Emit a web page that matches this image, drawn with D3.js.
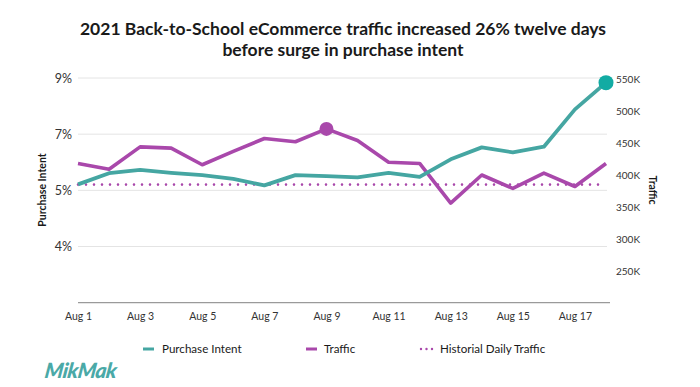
<!DOCTYPE html>
<html>
<head>
<meta charset="utf-8">
<script src="https://cdn.jsdelivr.net/npm/d3@7"></script>
<style>
  body { margin: 0; background: #fff; }
  svg { display: block; font-family: Lato, "Open Sans", sans-serif; }
</style>
</head>
<body>
<svg id="chart" width="700" height="387"></svg>
<script>
// data
var days = ['Aug 1', 'Aug 2', 'Aug 3', 'Aug 4', 'Aug 5', 'Aug 6', 'Aug 7', 'Aug 8', 'Aug 9',
    'Aug 10', 'Aug 11', 'Aug 12', 'Aug 13', 'Aug 14', 'Aug 15', 'Aug 16', 'Aug 17', 'Aug 18'];
var dayLabels = ['Aug 1', 'Aug 3', 'Aug 5', 'Aug 7', 'Aug 9', 'Aug 11', 'Aug 13', 'Aug 15', 'Aug 17'];
var purchaseIntent = [5.58, 5.92, 6.02, 5.93, 5.86, 5.75, 5.55, 5.86, 5.83,
    5.79, 5.93, 5.81, 6.34, 6.70, 6.55, 6.72, 7.85, 8.66];
var traffic = [418, 409, 444, 442, 416, 437, 457, 452, 472,
    454, 420, 418, 356, 400, 379, 403, 382, 418];
var historicalTraffic = 385;
var pctTicks = [8.8, 7.1, 5.4, 3.7];
var pctTickLabels = ['9%', '7%', '5%', '4%'];
var trafficTicks = [250, 300, 350, 400, 450, 500, 550];

var teal = '#45a6a2',
    tealDot = '#12aba3',
    purple = '#a948ab';

var svg = d3.select('#chart');

var x = d3.scalePoint().domain(days).range([78, 606]);
var yPct = d3.scaleLinear().domain([2, 8.8]).range([302.7, 78]);
var yTraffic = d3.scaleLinear().domain([200, 550]).range([303, 79]);

// title
var title = svg.append('text')
    .attr('x', 343)
    .attr('y', 35)
    .attr('text-anchor', 'middle')
    .style('font-family', 'Lato, sans-serif')
    .style('font-weight', 700)
    .style('font-size', '17.5px')
    .style('fill', '#1a1a1a');
title.append('tspan').attr('x', 343).text('2021 Back-to-School eCommerce traffic increased 26% twelve days');
title.append('tspan').attr('x', 343).attr('dy', 21).text('before surge in purchase intent');

// gridlines from the left axis
svg.append('g')
    .selectAll('line')
    .data(pctTicks)
    .enter()
    .append('line')
    .attr('x1', 78)
    .attr('x2', 607)
    .attr('y1', d => yPct(d))
    .attr('y2', d => yPct(d))
    .attr('stroke', '#e4e4e4')
    .attr('stroke-width', 1);

// left axis
var leftAxis = svg.append('g')
    .attr('transform', 'translate(72,0)')
    .call(d3.axisLeft(yPct).tickValues(pctTicks).tickSize(0).tickPadding(0)
        .tickFormat((d, i) => pctTickLabels[i]));
leftAxis.select('.domain').remove();
leftAxis.selectAll('text')
    .style('font-family', 'Lato, sans-serif')
    .style('font-size', '12.5px')
    .style('fill', '#333');

// right axis
var rightAxis = svg.append('g')
    .attr('transform', 'translate(616,0)')
    .call(d3.axisRight(yTraffic).tickValues(trafficTicks).tickSize(0).tickPadding(0)
        .tickFormat(d => d + 'K'));
rightAxis.select('.domain').remove();
rightAxis.selectAll('text')
    .style('font-family', 'Lato, sans-serif')
    .style('font-size', '10px')
    .style('fill', '#333');

// bottom axis
var bottomAxis = svg.append('g')
    .attr('transform', 'translate(0,302.7)')
    .call(d3.axisBottom(x).tickValues(dayLabels).tickSize(0).tickPadding(10));
bottomAxis.select('.domain').remove();
bottomAxis.selectAll('text')
    .style('font-family', 'Lato, sans-serif')
    .style('font-size', '10.5px')
    .style('fill', '#333');
svg.append('line')
    .attr('x1', 78)
    .attr('x2', 610)
    .attr('y1', 302.7)
    .attr('y2', 302.7)
    .attr('stroke', '#9a9a9a')
    .attr('stroke-width', 1.2);

// axis titles
svg.append('text')
    .attr('transform', 'translate(46,190) rotate(-90)')
    .attr('text-anchor', 'middle')
    .style('font-size', '10.5px')
    .style('font-weight', 700)
    .style('fill', '#1a1a1a')
    .text('Purchase Intent');
svg.append('text')
    .attr('transform', 'translate(649,190) rotate(90)')
    .attr('text-anchor', 'middle')
    .style('font-size', '10.5px')
    .style('font-weight', 700)
    .style('fill', '#1a1a1a')
    .text('Traffic');

// historical daily traffic (dotted)
svg.append('line')
    .attr('x1', x(days[0]))
    .attr('x2', x(days[days.length - 1]))
    .attr('y1', yTraffic(historicalTraffic))
    .attr('y2', yTraffic(historicalTraffic))
    .attr('stroke', purple)
    .attr('stroke-width', 2.6)
    .attr('stroke-linecap', 'round')
    .attr('stroke-dasharray', '0 8');

// traffic line
var trafficLine = d3.line()
    .x((d, i) => x(days[i]))
    .y(d => yTraffic(d));
svg.append('path')
    .datum(traffic)
    .attr('d', trafficLine)
    .attr('fill', 'none')
    .attr('stroke', purple)
    .attr('stroke-width', 3.6)
    .attr('stroke-linejoin', 'round');

// purchase intent line
var pctLine = d3.line()
    .x((d, i) => x(days[i]))
    .y(d => yPct(d));
svg.append('path')
    .datum(purchaseIntent)
    .attr('d', pctLine)
    .attr('fill', 'none')
    .attr('stroke', teal)
    .attr('stroke-width', 3.8)
    .attr('stroke-linejoin', 'round');

// highlighted points
var peakTraffic = traffic.indexOf(d3.max(traffic));
svg.append('circle')
    .attr('cx', x(days[peakTraffic]))
    .attr('cy', yTraffic(traffic[peakTraffic]))
    .attr('r', 7)
    .attr('fill', purple);
var last = purchaseIntent.length - 1;
svg.append('circle')
    .attr('cx', x(days[last]))
    .attr('cy', yPct(purchaseIntent[last]))
    .attr('r', 7.5)
    .attr('fill', tealDot);

// legend
var legend = svg.append('g').style('font-size', '11.6px').style('fill', '#1a1a1a');
legend.append('line').attr('x1', 143).attr('x2', 154).attr('y1', 349).attr('y2', 349)
    .attr('stroke', teal).attr('stroke-width', 3);
legend.append('text').attr('x', 162).attr('y', 353).text('Purchase Intent');
legend.append('line').attr('x1', 306).attr('x2', 317).attr('y1', 349).attr('y2', 349)
    .attr('stroke', purple).attr('stroke-width', 3);
legend.append('text').attr('x', 324).attr('y', 353).text('Traffic');
legend.append('line').attr('x1', 421).attr('x2', 434).attr('y1', 349).attr('y2', 349)
    .attr('stroke', purple).attr('stroke-width', 2.4)
    .attr('stroke-linecap', 'round').attr('stroke-dasharray', '0 5.5');
legend.append('text').attr('x', 440).attr('y', 353).text('Historial Daily Traffic');

// logo
svg.append('text')
    .attr('x', 44)
    .attr('y', 378)
    .attr('transform', 'skewX(-8)')
    .attr('transform-origin', '44 378')
    .style('font-family', 'Lato, sans-serif')
    .style('font-style', 'italic')
    .style('font-weight', 900)
    .style('font-size', '21px')
    .style('letter-spacing', '-0.5px')
    .style('fill', '#4aa9a7')
    .text('MikMak');
</script>
</body>
</html>
